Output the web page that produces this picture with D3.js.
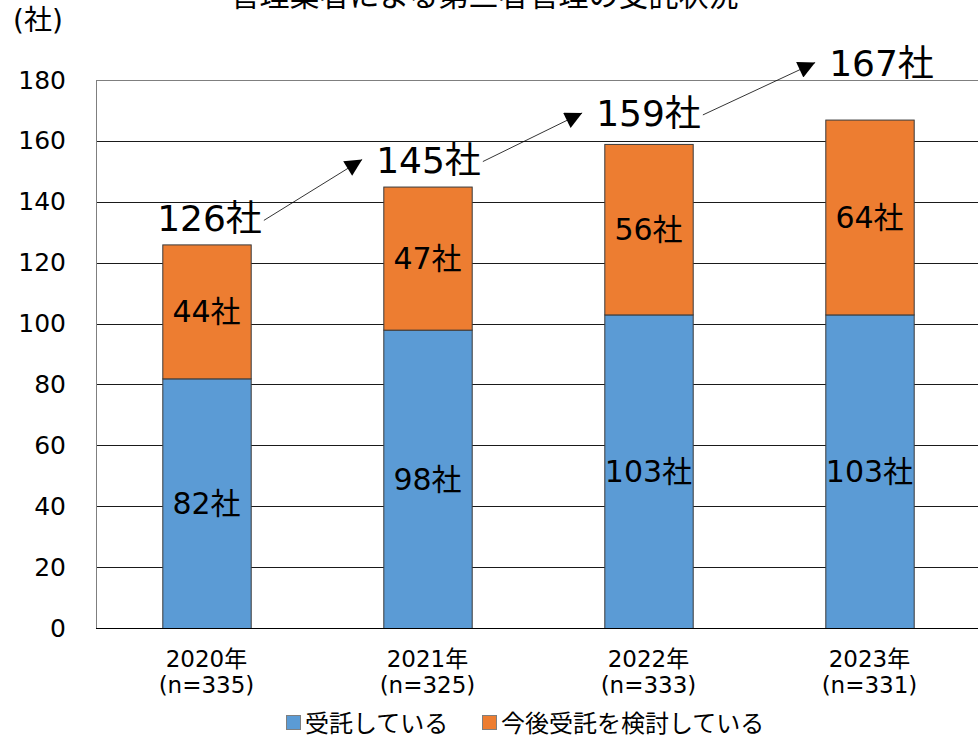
<!DOCTYPE html>
<html>
<head>
<meta charset="utf-8">
<script src="https://cdn.jsdelivr.net/npm/d3@7"></script>
<style>
  html, body { margin: 0; padding: 0; background: #fff; }
  svg { display: block; }
  text { font-family: "DejaVu Sans", "Noto Sans CJK JP", sans-serif; fill: #000; }
</style>
</head>
<body>
<svg id="chart" width="980" height="743"></svg>
<script>
// Survey years and respondent counts
const years = ["2020年", "2021年", "2022年", "2023年"];
const sampleSizes = ["(n=335)", "(n=325)", "(n=333)", "(n=331)"];

// Companies already contracting / considering contracting
const contracting = [82, 98, 103, 103];
const considering = [44, 47, 56, 64];
const totals = [126, 145, 159, 167];

const seriesNames = ["受託している", "今後受託を検討している"];
const yTicks = [0, 20, 40, 60, 80, 100, 120, 140, 160, 180];

const titleText = "管理業者による第三者管理の受託状況";
const unitText = "(社)";

// Layout
const colors = ["#5B9BD5", "#ED7D31"];
const plot = { left: 96, right: 980, top: 80, bottom: 628 };
// Total labels are lifted above each bar by these amounts (px) and nudged right
const totalLift = [13, 14, 18, 44];
const totalNudge = [3, 1, 0, 12];

const svg = d3.select("#chart");

const x = d3.scaleBand()
  .domain(years)
  .range([plot.left, plot.right])
  .paddingInner(0.6)
  .paddingOuter(0.3);

const y = d3.scaleLinear()
  .domain([0, 180])
  .range([plot.bottom, plot.top]);

// Title, set high so it runs off the top edge
svg.append("text")
  .attr("x", 484).attr("y", 6)
  .attr("text-anchor", "middle")
  .style("font-size", "30px")
  .text(titleText);

// Unit
svg.append("text")
  .attr("x", 13).attr("y", 30)
  .style("font-size", "28px")
  .text(unitText);

// Horizontal gridlines
svg.append("g")
  .selectAll("line")
  .data(yTicks.filter(d => d > 0))
  .join("line")
  .attr("x1", plot.left).attr("x2", plot.right - 2)
  .attr("y1", d => Math.round(y(d)) + 0.5)
  .attr("y2", d => Math.round(y(d)) + 0.5)
  .attr("stroke", d => d === 180 ? "#7f7f7f" : "#1a1a1a")
  .attr("stroke-width", 1);

// Left axis line
svg.append("line")
  .attr("x1", plot.left + 0.5).attr("x2", plot.left + 0.5)
  .attr("y1", plot.top).attr("y2", plot.bottom)
  .attr("stroke", "#7f7f7f");

// Y tick labels
const yAxis = d3.axisLeft(y).tickValues(yTicks).tickSize(0).tickPadding(30);
const yg = svg.append("g")
  .attr("transform", `translate(${plot.left},0)`)
  .call(yAxis);
yg.select(".domain").remove();
yg.selectAll("text")
  .style("font-size", "25px")
  .style("font-family", "'DejaVu Sans', 'Noto Sans CJK JP', sans-serif")
  .attr("fill", "#000");

// Stacked bars
const rows = years.map((yr, i) => ({ year: yr, contracting: contracting[i], considering: considering[i] }));
const stack = d3.stack().keys(["contracting", "considering"])(rows);

const layers = svg.append("g")
  .selectAll("g")
  .data(stack)
  .join("g")
  .attr("fill", (d, i) => colors[i]);

layers.selectAll("rect")
  .data(d => d)
  .join("rect")
  .attr("x", d => x(d.data.year) + 0.5)
  .attr("y", d => y(d[1]) + 0.5)
  .attr("width", x.bandwidth())
  .attr("height", d => y(d[0]) - y(d[1]))
  .attr("stroke", "#3a3a3a")
  .attr("stroke-width", 1);

// Segment value labels
layers.selectAll("text")
  .data(d => d)
  .join("text")
  .attr("x", d => x(d.data.year) + x.bandwidth() / 2)
  .attr("y", d => (y(d[0]) + y(d[1])) / 2)
  .attr("dy", "0.36em")
  .attr("text-anchor", "middle")
  .style("font-size", "30px")
  .text(d => `${d[1] - d[0]}社`);

// Baseline
svg.append("line")
  .attr("x1", plot.left).attr("x2", plot.right - 2)
  .attr("y1", plot.bottom + 0.5).attr("y2", plot.bottom + 0.5)
  .attr("stroke", "#000");

// Category labels
const cat = svg.append("g")
  .selectAll("text")
  .data(years)
  .join("text")
  .attr("x", d => x(d) + x.bandwidth() / 2)
  .attr("text-anchor", "middle")
  .style("font-size", "23px");
cat.append("tspan").attr("x", d => x(d) + x.bandwidth() / 2).attr("y", 667).text(d => d);
cat.append("tspan").attr("x", d => x(d) + x.bandwidth() / 2).attr("y", 693).text((d, i) => sampleSizes[i]);

// Totals with growth arrows
const totalLabels = svg.append("g")
  .selectAll("text")
  .data(totals)
  .join("text")
  .attr("x", (d, i) => x(years[i]) + x.bandwidth() / 2 + totalNudge[i])
  .attr("y", (d, i) => y(d) - totalLift[i])
  .attr("text-anchor", "middle")
  .style("font-size", "36px")
  .text(d => `${d}社`);

const boxes = totalLabels.nodes().map(n => n.getBBox());
const baselines = totals.map((d, i) => y(d) - totalLift[i]);

svg.append("defs").append("marker")
  .attr("id", "tri")
  .attr("viewBox", "0 0 10 10")
  .attr("refX", 10).attr("refY", 5)
  .attr("markerWidth", 20).attr("markerHeight", 17)
  .attr("markerUnits", "userSpaceOnUse")
  .attr("orient", "auto")
  .append("path")
  .attr("d", "M0,0 L10,5 L0,10 Z")
  .attr("fill", "#000");

const arrows = d3.range(totals.length - 1).map(i => ({
  x1: boxes[i].x + boxes[i].width + 2,
  y1: baselines[i] - 11,
  x2: boxes[i + 1].x - 14,
  y2: baselines[i + 1] - 13
}));

svg.append("g")
  .selectAll("line")
  .data(arrows)
  .join("line")
  .attr("x1", d => d.x1).attr("y1", d => d.y1)
  .attr("x2", d => d.x2).attr("y2", d => d.y2)
  .attr("stroke", "#000")
  .attr("stroke-width", 0.8)
  .attr("marker-end", "url(#tri)");

// Legend
const legend = svg.append("g");
const legendItems = [
  { name: seriesNames[0], color: colors[0], x: 286 },
  { name: seriesNames[1], color: colors[1], x: 482 }
];
legendItems.forEach(item => {
  legend.append("rect")
    .attr("x", item.x + 0.5).attr("y", 715.5)
    .attr("width", 14).attr("height", 14)
    .attr("fill", item.color)
    .attr("stroke", "#7f7f7f");
  legend.append("text")
    .attr("x", item.x + 19).attr("y", 732)
    .style("font-size", "24px")
    .text(item.name);
});
</script>
</body>
</html>
